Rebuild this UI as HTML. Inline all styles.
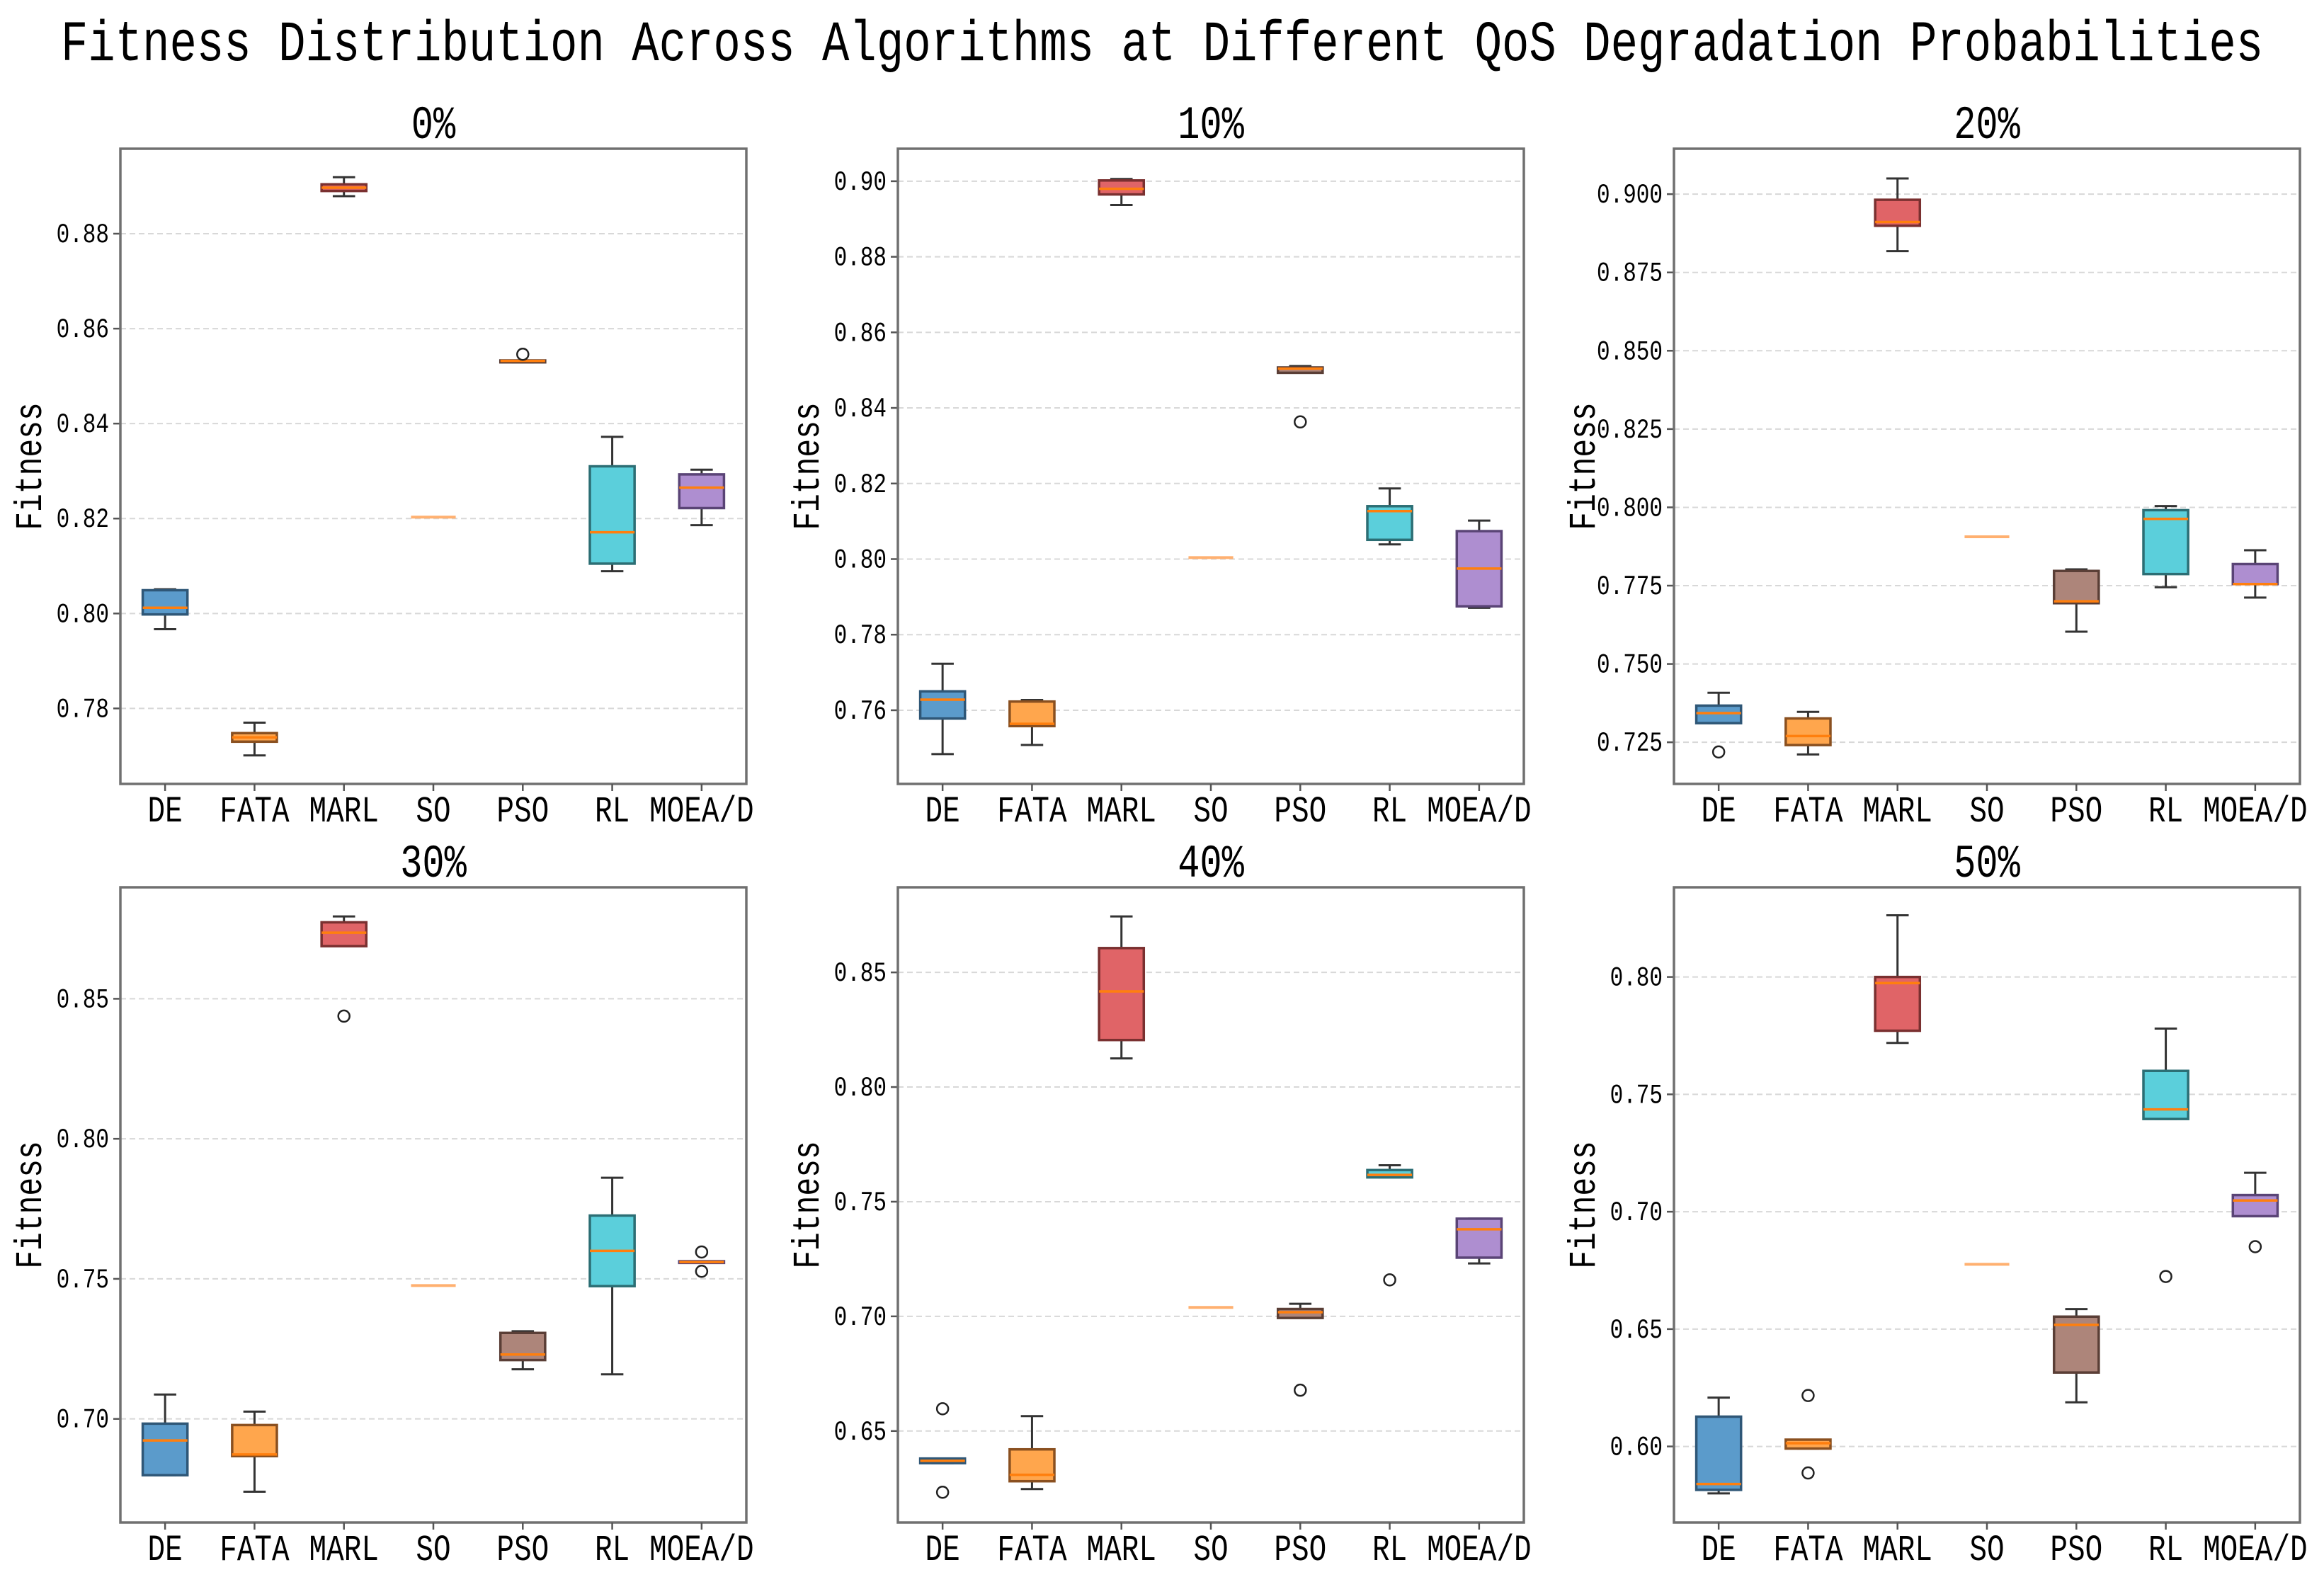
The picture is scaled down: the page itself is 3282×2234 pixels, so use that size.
<!DOCTYPE html>
<html><head><meta charset="utf-8">
<style>
html,body{margin:0;padding:0;background:#fff;}
svg{display:block;}
text{font-family:"Liberation Mono","Noto Sans CJK SC",monospace;fill:#000;}
</style></head>
<body>
<svg id="chart" width="3282" height="2234" viewBox="0 0 3282 2234" xmlns="http://www.w3.org/2000/svg">
<rect x="0" y="0" width="3282" height="2234" fill="#fff"/>
</svg>
<script>
const categories = ['DE','FATA','MARL','SO','PSO','RL','MOEA/D'];
const panelTitles = ['0%','10%','20%','30%','40%','50%'];
// each box: [whislo, q1, med, q3, whishi]
const stats0 = [[.7967,.7998,.8012,.8049,.8051],[.7701,.773,.7739,.7748,.7770],[.8879,.889,.8897,.8904,.8919],[.8203,.8203,.8203,.8203,.8203],[.8529,.8529,.8532,.8533,.8533],[.8089,.8105,.8171,.8310,.8372],[.8186,.8222,.8265,.8293,.8303]];
const fliers0 = [[],[],[],[],[.8546],[],[]];
const stats1 = [[.7484,.7578,.7628,.765,.7723],[.7508,.7558,.7564,.7623,.7627],[.8937,.8965,.898,.9002,.9006],[.8004,.8004,.8004,.8004,.8004],[.8493,.8493,.8504,.8507,.8511],[.8039,.8051,.8127,.814,.8187],[.7871,.7875,.7975,.8074,.8102]];
const fliers1 = [[],[],[],[],[.8363],[],[]];
const stats2 = [[.7311,.7311,.7343,.7367,.7408],[.7211,.7241,.727,.7326,.7347],[.8818,.8899,.8911,.8982,.905],[.7906,.7906,.7906,.7906,.7906],[.7603,.7694,.77,.7797,.7802],[.7745,.7787,.7963,.7991,.8004],[.7712,.7755,.7755,.7819,.7863]];
const fliers2 = [[.7219],[],[],[],[],[],[]];
const stats3 = [[.6799,.6799,.6923,.6983,.7087],[.674,.6867,.6873,.6978,.7026],[.8688,.8688,.8736,.8773,.8794],[.7476,.7476,.7476,.7476,.7476],[.7177,.721,.723,.7307,.7313],[.7159,.7474,.76,.7726,.7861],[.7557,.7557,.756,.7563,.7563]];
const fliers3 = [[],[],[.8438],[],[],[],[.7596,.7527]];
const stats4 = [[.636,.636,.637,.638,.638],[.6247,.6281,.6309,.642,.6565],[.8125,.8205,.8417,.8606,.8744],[.7039,.7039,.7039,.7039,.7039],[.6993,.6993,.7018,.7032,.7055],[.7606,.7606,.7617,.7638,.7659],[.7231,.7256,.738,.7426,.7426]];
const fliers4 = [[.6597,.6233],[],[],[],[.6678],[.7159],[]];
const stats5 = [[.580,.5815,.584,.6127,.6208],[.5991,.5991,.6014,.6029,.6029],[.7719,.7771,.7974,.80,.8263],[.6776,.6776,.6776,.6776,.6776],[.6188,.6315,.6518,.6553,.6585],[.7395,.7395,.7436,.760,.778],[.6981,.6981,.7048,.7071,.7166]];
const fliers5 = [[],[.6217,.5887],[],[],[],[.6724],[.6851]];
const yLimits = [[.7641,.8979],[.7405,.9086],[.7117,.9145],[.663,.8898],[.6101,.8871],[.5676,.8382]];
const yTicks0 = [.78,.80,.82,.84,.86,.88];
const yTicks1 = [.76,.78,.80,.82,.84,.86,.88,.90];
const yTicks2 = [.725,.75,.775,.80,.825,.85,.875,.90];
const yTicks3 = [.70,.75,.80,.85];
const yTicks4 = [.65,.70,.75,.80,.85];
const yTicks5 = [.60,.65,.70,.75,.80];
const tickDigits = [2,2,3,2,2,2];

const allStats=[stats0,stats1,stats2,stats3,stats4,stats5];
const allFliers=[fliers0,fliers1,fliers2,fliers3,fliers4,fliers5];
const allTicks=[yTicks0,yTicks1,yTicks2,yTicks3,yTicks4,yTicks5];
const colors=['#5b9bcb','#ffa64d','#e06467','#7fc97f','#ad857a','#5bcfdb','#ae8ed0'];
const edge=['#2f5777','#8a5020','#7a3030','#3a7a3a','#5a3e36','#2c6e74','#5a4476'];
const svg=document.getElementById('chart');
const NS='http://www.w3.org/2000/svg';
function mk(tag,attrs,parent){const e=document.createElementNS(NS,tag);for(const k in attrs)e.setAttribute(k,attrs[k]);(parent||svg).appendChild(e);return e;}
function txt(x,y,s,size,anchor,parent,rot){const t=mk('text',{'font-size':size,'text-anchor':anchor,transform:`translate(${x},${y})${rot?' rotate(-90)':''} scale(1,1.26)`},parent);t.textContent=s;return t;}

const title=txt(1641,85,'Fitness Distribution Across Algorithms at Different QoS Degradation Probabilities',64,'middle');



const lefts=[170,1268,2364], tops=[210,1253], W=884, H=897;
for(let p=0;p<6;p++){
  const L=lefts[p%3], T=tops[Math.floor(p/3)];
  const [ymin,ymax]=yLimits[p];
  const yS=v=>T+H-(v-ymin)/(ymax-ymin)*H;
  const xS=i=>L+(i+0.5)*W/7;
  const g=mk('g',{});
  
  
  const st=txt(L+W/2,T-15,panelTitles[p],52,'middle',g);
  
  
  allTicks[p].forEach(v=>{
    const y=yS(v);
    mk('line',{x1:L,x2:L+W,y1:y,y2:y,stroke:'#d8d8d8','stroke-width':2,'stroke-dasharray':'8,5'},g);
    mk('line',{x1:L-10,x2:L,y1:y,y2:y,stroke:'#555','stroke-width':2.5},g);
    const tl=txt(L-16,y+12,v.toFixed(tickDigits[p]),31,'end',g);
    
    
  });
  const yl=txt(L-112,T+H/2,'Fitness',43,'middle',g,true);
  
  
  const bw=W/7*0.5;
  allStats[p].forEach((s,i)=>{
    const cx=xS(i);
    const bg=mk('g',{},g);
    
    
    const [lo,q1,md,q3,hi]=s;
    if(q3-q1>0.00001){
      mk('line',{x1:cx,x2:cx,y1:yS(q3),y2:yS(hi),stroke:'#333','stroke-width':3},bg);
      mk('line',{x1:cx,x2:cx,y1:yS(q1),y2:yS(lo),stroke:'#333','stroke-width':3},bg);
      mk('line',{x1:cx-bw/4,x2:cx+bw/4,y1:yS(hi),y2:yS(hi),stroke:'#333','stroke-width':3},bg);
      mk('line',{x1:cx-bw/4,x2:cx+bw/4,y1:yS(lo),y2:yS(lo),stroke:'#333','stroke-width':3},bg);
      mk('rect',{x:cx-bw/2,y:yS(q3),width:bw,height:yS(q1)-yS(q3),fill:colors[i],stroke:edge[i],'stroke-width':3.5},bg);
      mk('line',{x1:cx-bw/2,x2:cx+bw/2,y1:yS(md),y2:yS(md),stroke:'#ff7f0e','stroke-width':3.5},bg);
    } else {
      mk('line',{x1:cx-bw/2,x2:cx+bw/2,y1:yS(md),y2:yS(md),stroke:'#ffb070','stroke-width':4},bg);
    }
    allFliers[p][i].forEach(f=>{
      const c=mk('circle',{cx:cx,cy:yS(f),r:8,fill:'none',stroke:'#222','stroke-width':2.5},bg);
      
      
    });
  });
  mk('rect',{x:L,y:T,width:W,height:H,fill:'none',stroke:'#707070','stroke-width':3.5},g);
  categories.forEach((c,i)=>{
    const cx=xS(i);
    mk('line',{x1:cx,x2:cx,y1:T+H,y2:T+H+10,stroke:'#555','stroke-width':2.5},g);
    const xl=txt(cx,T+H+53,c,41,'middle',g);
    
    
  });
}
</script>
</body></html>
